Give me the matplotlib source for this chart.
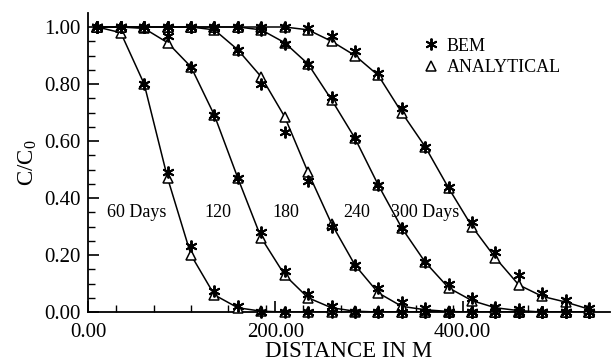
import matplotlib.pyplot as plt
from matplotlib.ticker import FixedLocator, FormatStrFormatter

plt.rcParams['font.family'] = ['Liberation Serif', 'DejaVu Serif']
plt.rcParams['mathtext.fontset'] = 'custom'
plt.rcParams['mathtext.rm'] = 'Liberation Serif'
plt.rcParams['mathtext.it'] = 'Liberation Serif:italic'

# distance of the sample points (m)
dist = [10, 35, 60, 85, 110, 135, 160, 185, 210, 235, 260,
        285, 310, 335, 360, 385, 410, 435, 460, 485, 510, 535]

# C/C0, one pair per time
bem_60 = [1.00, 1.00, 0.80, 0.49, 0.23, 0.075, 0.02, 0.0, 0, 0, 0,
          0, 0, 0, 0, 0, 0, 0, 0, 0, 0, 0]
ana_60 = [1.00, 0.98, 0.80, 0.47, 0.20, 0.06, 0.015, 0.003, 0, 0, 0,
          0, 0, 0, 0, 0, 0, 0, 0, 0, 0, 0]

bem_120 = [1.00, 1.00, 1.00, 0.97, 0.86, 0.69, 0.47, 0.28, 0.145, 0.065, 0.02,
           0.0, 0, 0, 0, 0, 0, 0, 0, 0, 0, 0]
ana_120 = [1.00, 1.00, 0.995, 0.945, 0.86, 0.69, 0.47, 0.26, 0.13, 0.05, 0.015,
           0.003, 0, 0, 0, 0, 0, 0, 0, 0, 0, 0]

bem_180 = [1.00, 1.00, 1.00, 1.00, 1.00, 0.995, 0.92, 0.80, 0.63, 0.46, 0.30,
           0.165, 0.085, 0.035, 0.013, 0.0, 0, 0, 0, 0, 0, 0]
ana_180 = [1.00, 1.00, 1.00, 1.00, 1.00, 0.99, 0.92, 0.825, 0.685, 0.49, 0.31,
           0.165, 0.067, 0.02, 0.008, 0.002, 0, 0, 0, 0, 0, 0]

bem_240 = [1.00, 1.00, 1.00, 1.00, 1.00, 1.00, 1.00, 0.99, 0.94, 0.87, 0.755,
           0.61, 0.445, 0.295, 0.175, 0.10, 0.05, 0.018, 0.01, 0.0, 0, 0]
ana_240 = [1.00, 1.00, 1.00, 1.00, 1.00, 1.00, 1.00, 0.99, 0.945, 0.87, 0.745,
           0.61, 0.445, 0.295, 0.175, 0.085, 0.04, 0.015, 0.005, 0.0, 0, 0]

bem_300 = [1.00, 1.00, 1.00, 1.00, 1.00, 1.00, 1.00, 1.00, 1.00, 0.995, 0.97,
           0.915, 0.84, 0.715, 0.58, 0.44, 0.315, 0.21, 0.13, 0.067, 0.042, 0.015]
ana_300 = [1.00, 1.00, 1.00, 1.00, 1.00, 1.00, 1.00, 1.00, 1.00, 0.99, 0.95,
           0.90, 0.83, 0.70, 0.58, 0.435, 0.30, 0.19, 0.095, 0.055, 0.035, 0.01]

labels = ['60 Days', '120', '180', '240', '300 Days']
label_x = [20, 124, 197, 272, 324]
label_y = 0.35

fig = plt.figure(figsize=(6.14, 3.62), dpi=100)
ax = fig.add_axes([0.1433, 0.138, 0.993 - 0.1433, 0.964 - 0.138])

star = (6, 2, 0)
series = [(bem_60, ana_60), (bem_120, ana_120), (bem_180, ana_180),
          (bem_240, ana_240), (bem_300, ana_300)]
for i, (bem, ana) in enumerate(series):
    ax.plot(dist, ana, color='black', lw=1.1, zorder=2)
    ax.plot(dist, ana, ls='none', marker='^', ms=7, mfc='white', mec='black',
            mew=1.1, clip_on=False, zorder=3, label='ANALYTICAL' if i == 0 else None)
    ax.plot(dist, bem, ls='none', marker=star, ms=8.5, mec='black', mew=1.4,
            clip_on=False, zorder=4, label='BEM' if i == 0 else None)

for t, x in zip(labels, label_x):
    ax.text(x, label_y, t, fontsize=13, va='center', ha='left')

ax.set_xlim(0, 557)
ax.set_ylim(0, 1.049)
ax.spines['top'].set_visible(False)
ax.spines['right'].set_visible(False)
ax.spines['left'].set_linewidth(1.3)
ax.spines['bottom'].set_linewidth(1.3)

ax.xaxis.set_major_locator(FixedLocator([0, 200, 400]))
ax.xaxis.set_minor_locator(FixedLocator([30, 70, 110, 150, 190, 230, 270, 310,
                                         350, 390, 430, 470, 510]))
ax.yaxis.set_major_locator(FixedLocator([0, 0.2, 0.4, 0.6, 0.8, 1.0]))
ax.yaxis.set_minor_locator(FixedLocator([0.05, 0.1, 0.15, 0.25, 0.3, 0.35, 0.45, 0.5,
                                         0.55, 0.65, 0.7, 0.75, 0.85, 0.9, 0.95]))
ax.xaxis.set_major_formatter(FormatStrFormatter('%.2f'))
ax.yaxis.set_major_formatter(FormatStrFormatter('%.2f'))
ax.tick_params(axis='both', which='major', direction='in', length=8, width=1.2,
               labelsize=15)
ax.tick_params(axis='both', which='minor', direction='in', length=5, width=1.0)
ax.tick_params(axis='x', which='major', pad=8)
ax.tick_params(axis='y', which='major', pad=5)

ax.set_xlabel('DISTANCE IN M', fontsize=16.5, labelpad=-1)
ax.set_ylabel(r'C/C$_\mathrm{0}$', fontsize=16.5, labelpad=4)

handles, names = ax.get_legend_handles_labels()
ax.legend(handles[::-1], names[::-1], loc='upper left', bbox_to_anchor=(0.615, 0.96),
          frameon=False, fontsize=13, handlelength=1.0, handletextpad=0.4,
          labelspacing=0.25, borderpad=0.2)

plt.savefig('out.png')
